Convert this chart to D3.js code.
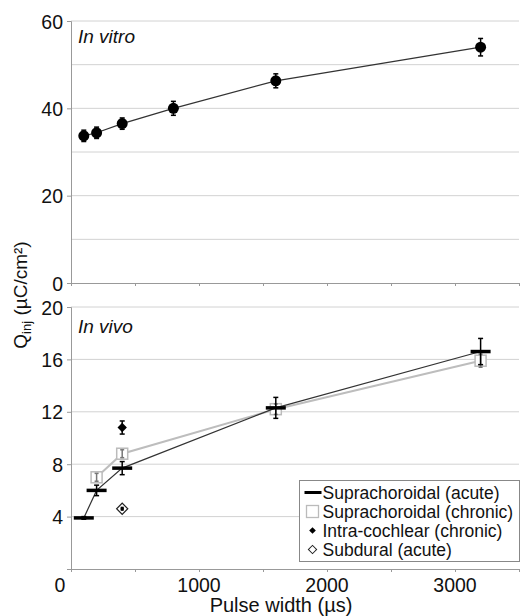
<!DOCTYPE html>
<html>
<head>
<meta charset="utf-8">
<script src="https://d3js.org/d3.v7.min.js"></script>
<style>
  body { margin: 0; background: #fff; }
  svg text { font-family: "Liberation Sans", Arial, sans-serif; fill: #111; }
</style>
</head>
<body>
<div id="chart"></div>
<script>
// In vitro data
const vitroWidths = [100, 200, 400, 800, 1600, 3200];
const vitroQ = [33.7, 34.4, 36.5, 40.0, 46.3, 54.0];
const vitroErr = [1.3, 1.3, 1.3, 1.6, 1.6, 2.0];

// In vivo data
const acuteWidths = [100, 200, 400, 1600, 3200];
const acuteQ = [3.9, 6.0, 7.7, 12.3, 16.6];
const acuteErr = [0.1, 0.4, 0.5, 0.8, 1.0];

const chronicWidths = [200, 400, 1600, 3200];
const chronicQ = [7.0, 8.8, 12.2, 15.9];
const chronicErr = [0.3, 0.3, 0.4, 0.5];

const cochlearWidths = [400];
const cochlearQ = [10.8];
const cochlearErr = [0.5];

const subduralWidths = [400];
const subduralQ = [4.6];
const subduralErr = [0.1];

const legendLabels = ["Suprachoroidal (acute)", "Suprachoroidal (chronic)", "Intra-cochlear (chronic)", "Subdural (acute)"];
const xTicks = [0, 1000, 2000, 3000];
const topTicks = [0, 20, 40, 60];
const topGrid = [10, 20, 30, 40, 50, 60];
const bottomTicks = [4, 8, 12, 16, 20];

const width = 522;
const height = 616;

const svg = d3.select("#chart")
    .append("svg")
    .attr("width", width)
    .attr("height", height);

const x = d3.scaleLinear().domain([0, 3500]).range([71, 519]);
const yTop = d3.scaleLinear().domain([0, 60]).range([283, 21]);
const yBot = d3.scaleLinear().domain([0, 20]).range([569, 307]);

const zip = (xs, ys, es) => xs.map((d, i) => ({ x: d, y: ys[i], e: es[i] }));

function drawFrame(y, gridVals, tickVals, xLabels) {
    // gridlines
    svg.append("g").selectAll("line")
        .data(gridVals)
        .enter().append("line")
        .attr("x1", x(0)).attr("x2", x(3500))
        .attr("y1", d => y(d)).attr("y2", d => y(d))
        .attr("stroke", "#d2d2d2").attr("stroke-width", 1);

    const yAxis = svg.append("g")
        .attr("transform", `translate(${x(0)},0)`)
        .call(d3.axisLeft(y).tickValues(tickVals).tickSize(4).tickPadding(4));
    yAxis.select(".domain").attr("stroke", "#999");
    yAxis.selectAll(".tick line").attr("stroke", "#999");
    yAxis.selectAll(".tick text")
        .style("font-size", "19.5px")
        .attr("dy", "0.36em");

    const xAxis = svg.append("g")
        .attr("transform", `translate(0,${y.range()[0]})`)
        .call(d3.axisBottom(x).tickValues(d3.range(0, 3501, 500)).tickSize(3).tickFormat(""));
    xAxis.select(".domain").attr("stroke", "#999");
    xAxis.selectAll(".tick line").attr("stroke", "#999");

    if (xLabels) {
        svg.append("g").selectAll("text")
            .data(xLabels)
            .enter().append("text")
            .attr("x", d => x(d) - (d === 0 ? 11 : 0))
            .attr("y", y.range()[0] + 23)
            .attr("text-anchor", "middle")
            .style("font-size", "19.5px")
            .text(d => d);
    }
}

function errorBars(data, y, color, cap) {
    const g = svg.append("g").attr("stroke", color).attr("stroke-width", 1.5);
    data.forEach(d => {
        const top = y(d.y + d.e), bot = y(d.y - d.e), cx = x(d.x);
        g.append("line").attr("x1", cx).attr("x2", cx).attr("y1", top).attr("y2", bot);
        g.append("line").attr("x1", cx - cap).attr("x2", cx + cap).attr("y1", top).attr("y2", top);
        g.append("line").attr("x1", cx - cap).attr("x2", cx + cap).attr("y1", bot).attr("y2", bot);
    });
}

// rotated square as diamond marker
const diamond = d3.symbol().type(d3.symbolSquare);

// ---- top panel: in vitro
drawFrame(yTop, topGrid, topTicks, null);

const vitro = zip(vitroWidths, vitroQ, vitroErr);
svg.append("path")
    .datum(vitro)
    .attr("fill", "none")
    .attr("stroke", "#333")
    .attr("stroke-width", 1.2)
    .attr("d", d3.line().x(d => x(d.x)).y(d => yTop(d.y)));
errorBars(vitro, yTop, "#000", 2.5);
svg.append("g").selectAll("circle")
    .data(vitro)
    .enter().append("circle")
    .attr("cx", d => x(d.x))
    .attr("cy", d => yTop(d.y))
    .attr("r", 5.5)
    .attr("fill", "#000");

svg.append("text")
    .attr("x", 78).attr("y", 43)
    .style("font-size", "19px").style("font-style", "italic")
    .text("In vitro");

// ---- bottom panel: in vivo
drawFrame(yBot, bottomTicks, bottomTicks, xTicks);

const acute = zip(acuteWidths, acuteQ, acuteErr);
const chronic = zip(chronicWidths, chronicQ, chronicErr);
const cochlear = zip(cochlearWidths, cochlearQ, cochlearErr);
const subdural = zip(subduralWidths, subduralQ, subduralErr);

const lineBot = d3.line().x(d => x(d.x)).y(d => yBot(d.y));

svg.append("path")
    .datum(chronic)
    .attr("fill", "none")
    .attr("stroke", "#bdbdbd")
    .attr("stroke-width", 2)
    .attr("d", lineBot);
svg.append("g").selectAll("rect")
    .data(chronic)
    .enter().append("rect")
    .attr("x", d => x(d.x) - 5.5)
    .attr("y", d => yBot(d.y) - 5.5)
    .attr("width", 11).attr("height", 11)
    .attr("fill", "#fff")
    .attr("stroke", "#bbb")
    .attr("stroke-width", 1.5);
errorBars(chronic, yBot, "#777", 2);

svg.append("path")
    .datum(acute)
    .attr("fill", "none")
    .attr("stroke", "#333")
    .attr("stroke-width", 1.2)
    .attr("d", lineBot);
errorBars(acute, yBot, "#000", 2.5);
svg.append("g").selectAll("line")
    .data(acute)
    .enter().append("line")
    .attr("x1", d => x(d.x) - 10).attr("x2", d => x(d.x) + 10)
    .attr("y1", d => yBot(d.y)).attr("y2", d => yBot(d.y))
    .attr("stroke", "#000").attr("stroke-width", 3.5);

errorBars(cochlear, yBot, "#000", 2.5);
svg.append("g").selectAll("path")
    .data(cochlear)
    .enter().append("path")
    .attr("transform", d => `translate(${x(d.x)},${yBot(d.y)}) rotate(45)`)
    .attr("d", diamond.size(44))
    .attr("fill", "#000");

svg.append("g").selectAll("path")
    .data(subdural)
    .enter().append("path")
    .attr("transform", d => `translate(${x(d.x)},${yBot(d.y)}) rotate(45)`)
    .attr("d", diamond.size(62))
    .attr("fill", "#fff")
    .attr("stroke", "#222")
    .attr("stroke-width", 1.2);
errorBars(subdural, yBot, "#000", 1.5);
svg.append("g").selectAll("circle")
    .data(subdural)
    .enter().append("circle")
    .attr("cx", d => x(d.x)).attr("cy", d => yBot(d.y))
    .attr("r", 1.8).attr("fill", "#000");

svg.append("text")
    .attr("x", 78).attr("y", 333)
    .style("font-size", "19px").style("font-style", "italic")
    .text("In vivo");

// ---- legend
const legend = svg.append("g").attr("transform", "translate(299.5,480.5)");
legend.append("rect")
    .attr("width", 220).attr("height", 81)
    .attr("fill", "#fff")
    .attr("stroke", "#888")
    .attr("stroke-width", 1);

const rowY = d3.scalePoint().domain(legendLabels).range([12, 69]);
legend.selectAll("text")
    .data(legendLabels)
    .enter().append("text")
    .attr("x", 23)
    .attr("y", d => rowY(d))
    .attr("dy", "0.36em")
    .style("font-size", "17.5px")
    .text(d => d);

legend.append("line")
    .attr("x1", 5).attr("x2", 22)
    .attr("y1", rowY(legendLabels[0])).attr("y2", rowY(legendLabels[0]))
    .attr("stroke", "#000").attr("stroke-width", 3);
legend.append("rect")
    .attr("x", 7).attr("y", rowY(legendLabels[1]) - 6)
    .attr("width", 12).attr("height", 12)
    .attr("fill", "#fff").attr("stroke", "#bbb").attr("stroke-width", 1.3);
legend.append("path")
    .attr("transform", `translate(13,${rowY(legendLabels[2])}) rotate(45)`)
    .attr("d", diamond.size(22))
    .attr("fill", "#000");
legend.append("path")
    .attr("transform", `translate(13,${rowY(legendLabels[3])}) rotate(45)`)
    .attr("d", diamond.size(34))
    .attr("fill", "#fff").attr("stroke", "#222").attr("stroke-width", 1);

// ---- axis titles
svg.append("text")
    .attr("x", 281).attr("y", 612)
    .attr("text-anchor", "middle")
    .style("font-size", "20px")
    .text("Pulse width (µs)");

const yTitle = svg.append("text")
    .attr("transform", "translate(27,295) rotate(-90)")
    .attr("text-anchor", "middle")
    .style("font-size", "19px");
yTitle.append("tspan").text("Q");
yTitle.append("tspan").attr("dy", 4).style("font-size", "13px").text("inj");
yTitle.append("tspan").attr("dy", -4).text(" (µC/cm²)");
</script>
</body>
</html>
